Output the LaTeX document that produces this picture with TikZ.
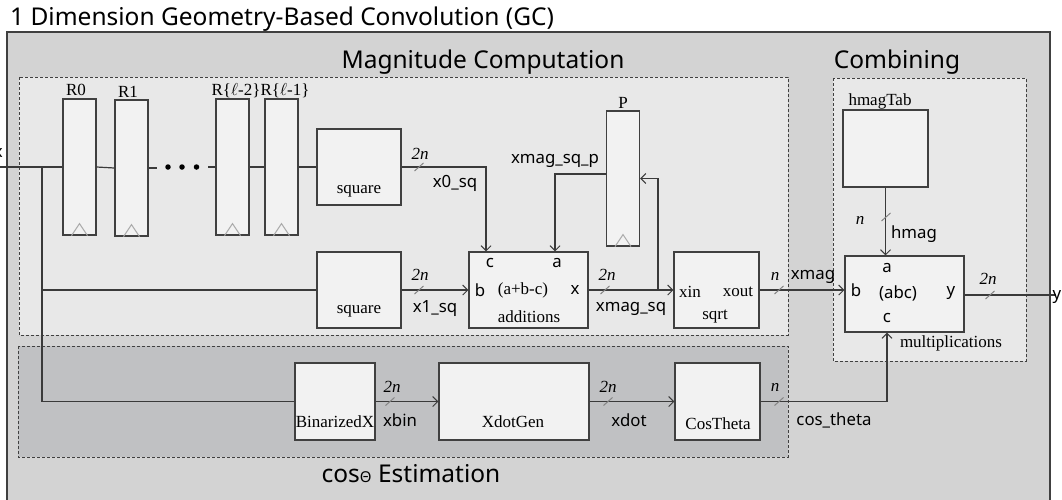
\documentclass[tikz,border=0pt]{standalone}
\usepackage{fontspec}
\setmainfont{Liberation Serif}
\newfontfamily\sansf{Noto Sans}
\usetikzlibrary{arrows.meta,calc}

\definecolor{outerfill}{HTML}{D3D3D3}
\definecolor{panelfill}{HTML}{E8E8E8}
\definecolor{cosfill}{HTML}{C0C1C3}
\definecolor{blockfill}{HTML}{F2F2F2}
\definecolor{edgec}{HTML}{404040}
\definecolor{wirec}{HTML}{3A3A3A}
\definecolor{markc}{HTML}{858585}
\definecolor{tric}{HTML}{ABABAB}

\tikzset{
  blk/.style={draw=edgec, fill=blockfill, line width=1.2pt, inner sep=0pt},
  reg/.style={blk, minimum width=33pt, minimum height=136pt},
  panel/.style={draw=edgec, line width=1pt, dash pattern=on 3pt off 2pt},
  wire/.style={draw=wirec, line width=1.2pt},
  arr/.style={wire, -{Straight Barb[length=5pt,width=10pt,line width=1pt]}},
  busmk/.style={draw=markc, line width=1pt},
  tri/.style={draw=tric, line width=1pt},
  dotn/.style={circle, fill=black, inner sep=0pt, minimum size=5.5pt},
  ttl/.style={font=\sansf\fontsize{24.5}{28}\selectfont, inner sep=0pt},
  lbl/.style={font=\sansf\fontsize{16.8}{19}\selectfont, inner sep=0pt},
  ser/.style={font=\fontsize{17}{19}\selectfont, inner sep=0pt},
  bw/.style={font=\fontsize{17}{19}\selectfont\itshape, inner sep=0pt},
}
\newcommand\busmark[1]{\draw[busmk] ($(#1)+(-4.5,4)$) -- ($(#1)+(4.5,-4)$);}

\begin{document}
\begin{tikzpicture}[x=1pt,y=-1pt]
\useasboundingbox (0,0) rectangle (1062,499);

% outer frame and title
\draw[draw=edgec, fill=outerfill, line width=1.2pt] (7,32) rectangle (1050,510);
\node[ttl, anchor=base west] (title) at (10,25) {1 Dimension Geometry-Based Convolution (GC)};

% sub-panels
\draw[panel, fill=panelfill] (19,77) rectangle (788,335);
\draw[panel, fill=panelfill] (833,78) rectangle (1026,361);
\draw[panel, fill=cosfill] (18,346) rectangle (788,457);
\node[ttl, anchor=base] (tmag) at (483,68) {Magnitude Computation};
\node[ttl, anchor=base] (tcomb) at (897,68) {Combining};
\node[ttl, anchor=base] (tcos) at (411,482) {cos{\fontsize{15}{15}\selectfont Θ} Estimation};

% shift registers
\node[reg] (R0) at (79.5,167) {};
\node[reg] (R1) at (131.5,168) {};
\node[reg] (R2) at (232.5,167) {};
\node[reg] (R3) at (281.5,167) {};
\node[reg, minimum height=135pt] (P) at (623,178.5) {};
\node[ser] (lR0) at (76,90) {R0};
\node[ser] (lR1) at (128,92) {R1};
\node[ser] (lR2) at (236,91) {R\{$\ell$-2\}};
\node[ser] (lR3) at (285,91) {R\{$\ell$-1\}};
\node[ser] (lP) at (623,103) {P};
\foreach \r in {R0,R1,R2,R3,P}
  \draw[tri] ([xshift=-8pt]\r.south) -- ([yshift=12pt]\r.south) -- ([xshift=8pt]\r.south);

% processing blocks
\node[blk, minimum width=84pt, minimum height=76pt] (sq0) at (359,167) {};
\node[blk, minimum width=84pt, minimum height=76pt] (sq1) at (359,290) {};
\node[blk, minimum width=119pt, minimum height=76pt] (add) at (528.5,290) {};
\node[blk, minimum width=85pt, minimum height=76pt] (sqrt) at (716.5,290) {};
\node[blk, minimum width=85pt, minimum height=77pt] (hmT) at (885.5,148.5) {};
\node[blk, minimum width=119pt, minimum height=76pt] (mult) at (904.5,294) {};
\node[blk, minimum width=80pt, minimum height=77pt] (bin) at (335,401.5) {};
\node[blk, minimum width=150pt, minimum height=77pt] (xdg) at (514,401.5) {};
\node[blk, minimum width=85pt, minimum height=77pt] (cth) at (717.5,401.5) {};

% block texts
\node[ser] (tsq0) at (359,191) {square};
\node[ser] (tsq1) at (359,311) {square};
\node[lbl] (addc) at (490,263) {c};
\node[lbl] (adda) at (557,263) {a};
\node[lbl] (addb) at (480,290) {b};
\node[ser] (addf) at (523,290) {(a+b-c)};
\node[lbl] (addx) at (575,290) {x};
\node[ser] (addn) at (529,317) {additions};
\node[ser] (sqin) at (690,292) {xin};
\node[ser] (sqout) at (738,292) {xout};
\node[ser] (sqn) at (715,317) {sqrt};
\node[ser] (lhm) at (880,101) {hmagTab};
\node[lbl] (mula) at (887,268) {a};
\node[lbl] (mulb) at (856,290) {b};
\node[lbl] (mulf) at (898,293) {(abc)};
\node[lbl] (muly) at (951,293) {y};
\node[lbl] (mulc) at (887,318) {c};
\node[ser] (muln) at (951,343) {multiplications};
\node[ser] (tbin) at (335,422) {BinarizedX};
\node[ser] (txdg) at (513,422) {XdotGen};
\node[ser] (tcth) at (718,424) {CosTheta};

% input and delay line
\coordinate (xin) at (0,167);
\coordinate (br) at (42,167);
\node[lbl, anchor=east] (lx) at (3,153) {x};
\draw[wire] (xin) -- (R0.west);
\draw[wire] (R0.east) -- (R1.west);
\draw[wire] (R1.east) -- ++(8,0);
\draw[wire] (R2.west) -- ++(-7,0);
\node[dotn] (d1) at (168,167) {};
\node[dotn] (d2) at (182,167) {};
\node[dotn] (d3) at (196.5,167) {};
\draw[wire] (R2.east) -- (R3.west);
\draw[wire] (R3.east) -- (sq0.west);
\draw[wire] (br) |- (sq1.west);
\draw[wire] (br) |- (bin.west);

% magnitude path
\draw[arr] (sq0.east) -| ([xshift=-42.5pt]add.north);
\draw[arr] (sq1.east) -- (add.west);
\draw[arr] ([yshift=4.5pt]P.west) -| ([xshift=26.5pt]add.north);
\draw[arr] (add.east) -- (sqrt.west);
\coordinate (fb) at (658,290);
\draw[arr] (fb) |- (P.east);
\draw[arr] (sqrt.east) -- (sqrt.east -| mult.west);
\draw[arr] (hmT.south) -- (hmT.south |- mult.north);
\coordinate (yend) at (1056,295);
\draw[wire] (mult.east |- yend) -- (yend);
\node[lbl, anchor=west] (ly) at (1052.5,297) {y};

% cos(theta) path
\draw[arr] (bin.east) -- (xdg.west);
\draw[arr] (xdg.east) -- (cth.west);
\coordinate (ct) at (887,401.5);
\draw[arr] (cth.east) -- (ct) -- (ct |- mult.south);

% bus width marks
\busmark{419,167}
\busmark{419,290}
\busmark{605,290}
\busmark{779,290}
\busmark{886,217}
\busmark{990,295}
\busmark{390,401.5}
\busmark{608,401.5}
\busmark{779,401.5}
\node[bw] (w1) at (420,154) {2n};
\node[bw] (w2) at (420,275) {2n};
\node[bw] (w3) at (607,275) {2n};
\node[bw] (w4) at (775,276) {n};
\node[bw] (w5) at (860,220) {n};
\node[bw] (w6) at (988,279) {2n};
\node[bw] (w7) at (392,387) {2n};
\node[bw] (w8) at (608,387) {2n};
\node[bw] (w9) at (775,387) {n};

% signal names
\node[lbl] (s1) at (455,183) {x0\_sq};
\node[lbl] (s2) at (435,309) {x1\_sq};
\node[lbl] (s3) at (555,161) {xmag\_sq\_p};
\node[lbl] (s4) at (631,309) {xmag\_sq};
\node[lbl] (s5) at (813,277) {xmag};
\node[lbl] (s6) at (914,234) {hmag};
\node[lbl] (s7) at (400,420) {xbin};
\node[lbl] (s8) at (629,420) {xdot};
\node[lbl] (s9) at (834,420) {cos\_theta};
\end{tikzpicture}
\end{document}
